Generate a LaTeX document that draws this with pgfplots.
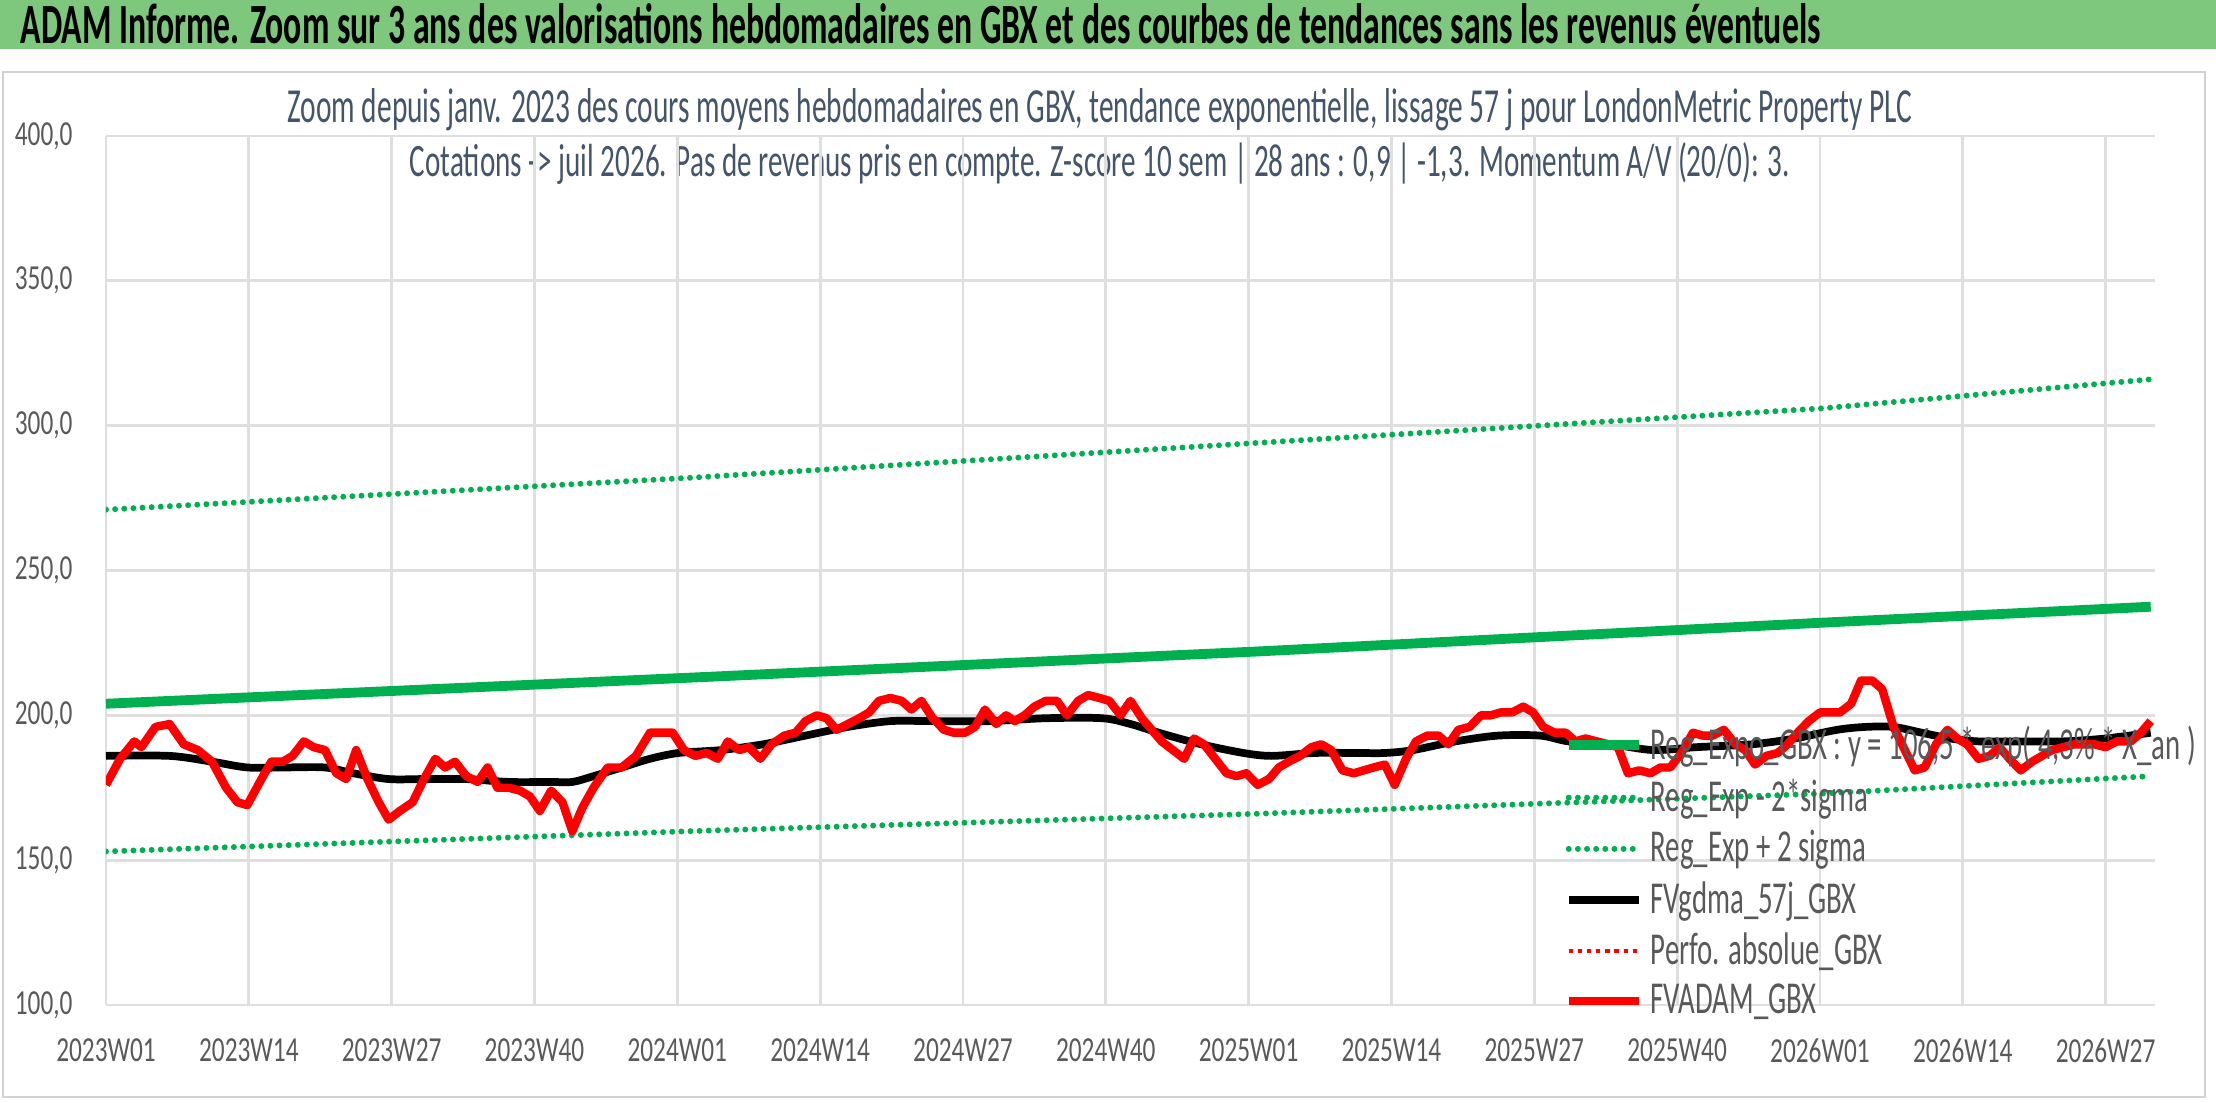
\documentclass[border=0pt]{standalone}
\usepackage{pgfplots}
\pgfplotsset{compat=1.18}
\usepackage{pgfplotstable}
\usepackage{fontspec}
\setmainfont{Carlito}
\definecolor{tbar}{HTML}{7DC87D}
\definecolor{gr}{HTML}{00B050}
\definecolor{sub}{HTML}{44546A}
\definecolor{tick}{HTML}{595959}
\newcommand{\cx}[1]{\scalebox{0.72}[1]{#1}}
\newcommand{\lx}[1]{\scalebox{0.63}[1]{#1}}
\pgfplotstableread{
px y
75 176
85 185
95 191
100 189
110 196
120 197
130 190
140 188
150 184
160 175
168 170
175 169
185 178
192 184
200 184
207 186
215 191
222 189
230 188
238 180
245 178
252 188
260 178
268 170
275 164
283 167
292 170
300 178
308 185
315 182
322 184
330 179
338 177
345 182
352 175
360 175
368 174
375 172
382 167
390 174
398 170
405 160
412 168
420 175
430 182
440 182
450 186
460 194
468 194
476 194
484 188
492 186
500 187
508 185
515 191
523 188
530 189
538 185
546 190
555 193
563 194
570 198
578 200
585 199
592 195
600 197
608 199
615 201
622 205
630 206
638 205
645 202
652 205
660 199
668 195
675 194
683 194
690 196
697 202
705 197
712 200
718 198
725 200
732 203
740 205
748 205
755 200
763 205
770 207
778 206
785 205
793 200
800 205
808 199
815 195
822 191
830 188
838 185
845 192
852 190
860 185
868 180
875 179
882 180
890 176
898 178
905 182
912 184
920 186
928 189
935 190
942 188
950 181
958 180
965 181
972 182
980 183
987 176
995 185
1002 191
1010 193
1018 193
1025 190
1032 195
1040 196
1048 200
1055 200
1062 201
1070 201
1078 203
1085 201
1092 196
1100 194
1108 194
1115 191
1122 192
1130 191
1138 190
1145 189
1152 180
1160 181
1168 180
1175 182
1182 182
1190 187
1198 194
1205 193
1212 193
1220 195
1228 190
1235 188
1242 183
1250 186
1258 187
1265 190
1272 194
1280 198
1288 201
1295 201
1302 201
1310 204
1317 212
1325 212
1332 209
1340 196
1348 188
1355 181
1362 182
1370 190
1378 195
1385 192
1392 190
1400 185
1408 186
1415 189
1422 185
1430 181
1438 184
1445 186
1452 188
1460 189
1468 190
1475 190
1482 190
1490 189
1498 191
1508 191
1515 194
1522 198
}\red
\pgfplotstableread{
px y
75 186
120 186
150 184
175 182
200 182
230 182
250 180
275 178
300 178
330 178
360 177
390 177
405 177
420 179
440 182
460 185
480 187
510 188
540 190
570 193
600 196
630 198
660 198
700 198
740 199
780 199
800 197
820 194
850 190
880 187
900 186
930 187
960 187
980 187
1000 188
1030 191
1060 193
1090 193
1110 191
1140 190
1170 188
1200 189
1240 190
1270 192
1300 195
1320 196
1340 196
1360 194
1380 192
1400 191
1430 191
1460 191
1490 192
1522 194
}\blk
\pgfplotstableread{
px mid lo hi
75 204 153 271
488 213 160 282
888 222 166 294
1290 232 173 306
1522 237.5 179 316
}\trend
\begin{document}
\begin{tikzpicture}[x=1cm,y=1cm]
\path[use as bounding box] (0,0) rectangle (22.16,11.02);
\draw[gray!35,line width=0.8pt] (0.03,0.05) rectangle (22.05,10.3);
\fill[tbar] (0,10.53) rectangle (22.16,11.02);
\node[anchor=west,inner sep=0] at (0.2,10.78) {\resizebox{18.0cm}{0.40cm}{\bfseries ADAM Informe. Zoom sur 3 ans des valorisations hebdomadaires en GBX et des courbes de tendances sans les revenus éventuels}};
\node[inner sep=0,text=sub] at (11.0,9.92) {\resizebox{16.25cm}{0.34cm}{Zoom depuis janv. 2023 des cours moyens hebdomadaires en GBX, tendance exponentielle, lissage 57 j pour LondonMetric Property PLC}};
\node[inner sep=0,text=sub] at (11.0,9.39) {\resizebox{13.8cm}{0.34cm}{Cotations -> juil 2026. Pas de revenus pris en compte. Z-score 10 sem | 28 ans : 0,9 | -1,3. Momentum A/V (20/0): 3.}};
\begin{axis}[at={(1.06cm,0.97cm)},anchor=south west,scale only axis,
 width=20.49cm,height=8.69cm,
 xmin=0,xmax=186.5,ymin=100,ymax=400,
 axis line style={draw=none},
 xtick={0,13,...,182},
 xticklabels={\cx{2023W01},\cx{2023W14},\cx{2023W27},\cx{2023W40},\cx{2024W01},\cx{2024W14},\cx{2024W27},\cx{2024W40},\cx{2025W01},\cx{2025W14},\cx{2025W27},\cx{2025W40},\cx{2026W01},\cx{2026W14},\cx{2026W27}},
 ytick={100,150,...,400},
 yticklabel={\cx{\pgfmathprintnumber[fixed,fixed zerofill,precision=1,use comma]{\tick}}},
 /pgf/number format/assume math mode=true,
 tick style={draw=none},
 grid=major,major grid style={gray!25,line width=0.8pt},
 ticklabel style={font=\fontsize{10}{11}\selectfont,text=tick},
 yticklabel style={xshift=-6pt},
 xticklabel style={yshift=-6pt},
 legend style={at={(0.706,0.338)},anchor=north west,draw=none,fill=none,
   font=\fontsize{13}{12}\selectfont,text=tick,row sep=0pt},
 legend cell align=left,
 legend image code/.code={\draw[#1] (0cm,0cm) -- (0.7cm,0cm);},
]
\addplot[gr,line width=2.8pt] table[x expr=(\thisrow{px}-75)/7.775,y=mid]{\trend};
\addlegendentry{\lx{Reg\_Expo\_GBX : y = 106,5 * exp( 4,3\% * X\_an )}}
\addplot[gr,line width=1.7pt,line cap=round,dash pattern=on 0pt off 2.6pt] table[x expr=(\thisrow{px}-75)/7.775,y=lo]{\trend};
\addlegendentry{\lx{Reg\_Exp - 2*sigma}}
\addplot[gr,line width=1.7pt,line cap=round,dash pattern=on 0pt off 2.6pt] table[x expr=(\thisrow{px}-75)/7.775,y=hi]{\trend};
\addlegendentry{\lx{Reg\_Exp + 2 sigma}}
\addplot[black,line width=2.2pt,smooth] table[x expr=(\thisrow{px}-75)/7.775,y=y]{\blk};
\addlegendentry{\lx{FVgdma\_57j\_GBX}}
\addlegendimage{red,line width=1.3pt,dash pattern=on 1.2pt off 1.4pt}
\addlegendentry{\lx{Perfo. absolue\_GBX}}
\addplot[red,line width=2.4pt,line join=round] table[x expr=(\thisrow{px}-75)/7.775,y=y]{\red};
\addlegendentry{\lx{FVADAM\_GBX}}
\end{axis}
\end{tikzpicture}
\end{document}
